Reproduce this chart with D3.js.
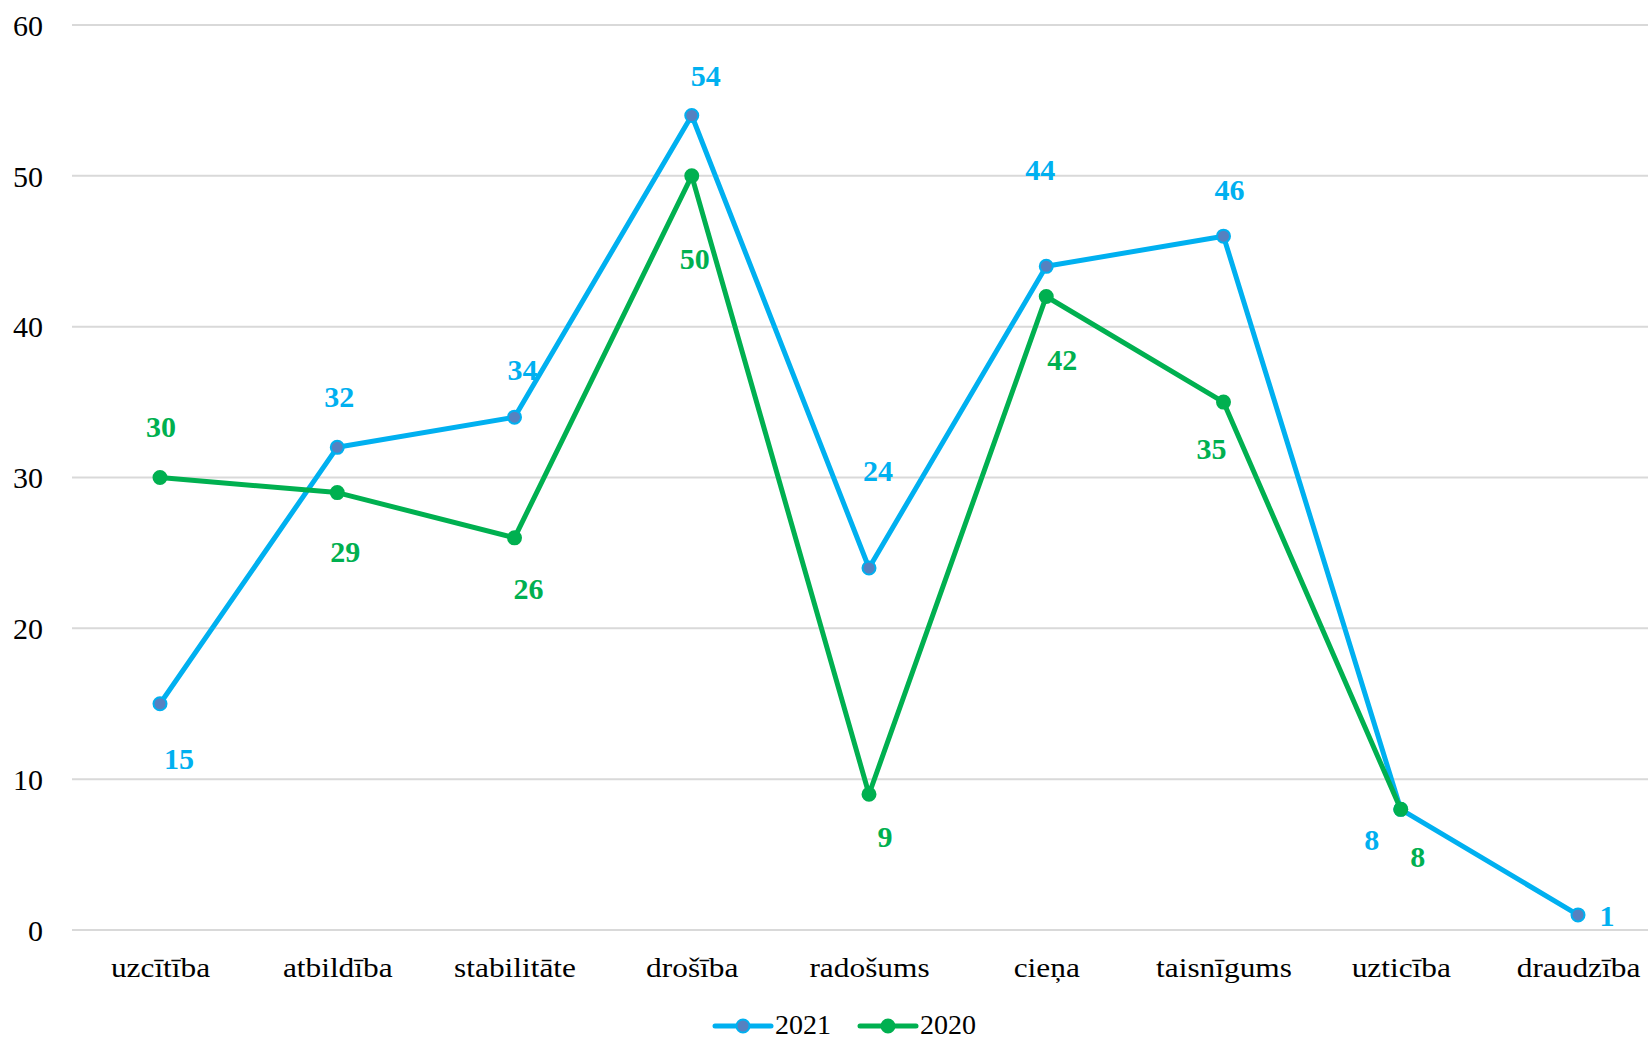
<!DOCTYPE html>
<html>
<head>
<meta charset="utf-8">
<script src="https://cdn.jsdelivr.net/npm/d3@7"></script>
<style>
  html, body { margin: 0; padding: 0; background: #fff; }
  svg { display: block; }
</style>
</head>
<body>
<svg id="chart" width="1648" height="1041"></svg>
<script>
const categories = ["uzcītība", "atbildība", "stabilitāte", "drošība", "radošums", "cieņa", "taisnīgums", "uzticība", "draudzība"];
const values2021 = [15, 32, 34, 54, 24, 44, 46, 8, 1];
const values2020 = [30, 29, 26, 50, 9, 42, 35, 8, null];
const yTicks = [0, 10, 20, 30, 40, 50, 60];
const seriesNames = ["2021", "2020"];

// label placement offsets (px) relative to each point: [dx, dy]
const labelOffsets2021 = [[19, 55], [2, -51], [8, -48], [14, -40], [9, -98], [-6, -97], [6, -47], [-29, 30], [29, 1]];
const labelOffsets2020 = [[1, -51], [8, 59], [14, 51], [3, 83], [16, 42], [16, 63], [-12, 46], [17, 47], null];

const blue = "#00B0F0", green = "#00B050", markerBlue = "#5681C0";
const svg = d3.select("#chart");
const font = "'Liberation Serif', 'Times New Roman', serif";

const x = d3.scalePoint().domain(categories).range([160, 1578]);
const y = d3.scaleLinear().domain([0, 60]).range([930, 25]);

// gridlines
svg.append("g").selectAll("line").data(yTicks).join("line")
  .attr("x1", 72).attr("x2", 1648)
  .attr("y1", d => y(d)).attr("y2", d => y(d))
  .attr("stroke", "#d9d9d9").attr("stroke-width", 2);

// y axis labels
const yAxis = d3.axisLeft(y).tickValues(yTicks).tickSize(0).tickPadding(0);
const gy = svg.append("g").attr("transform", "translate(43,0)").call(yAxis);
gy.select(".domain").remove();
gy.selectAll("text").attr("font-family", font).attr("font-size", 30).attr("fill", "#000").attr("dy", "0.34em");

// x axis labels
const xAxis = d3.axisBottom(x).tickSize(0).tickPadding(0);
const gx = svg.append("g").attr("transform", "translate(0,977)").call(xAxis);
gx.select(".domain").remove();
gx.selectAll("text").attr("font-family", font).attr("font-size", 28).attr("fill", "#000")
  .attr("dy", 0).attr("y", 0).attr("transform", "scale(1.12,1)");

const line = d3.line().defined(d => d.v != null).x(d => x(d.c)).y(d => y(d.v));

function drawSeries(vals, color, mfill, offsets) {
  const data = categories.map((c, i) => ({ c, v: vals[i], o: offsets[i] })).filter(d => d.v != null);
  svg.append("path").datum(data).attr("d", line)
    .attr("fill", "none").attr("stroke", color).attr("stroke-width", 5).attr("stroke-linejoin", "round");
  svg.append("g").selectAll("circle").data(data).join("circle")
    .attr("cx", d => x(d.c)).attr("cy", d => y(d.v)).attr("r", 6.5)
    .attr("fill", mfill).attr("stroke", color).attr("stroke-width", 2);
  return data;
}

const d21 = drawSeries(values2021, blue, markerBlue, labelOffsets2021);
const d20 = drawSeries(values2020, green, green, labelOffsets2020);

function drawLabels(data, color) {
  svg.append("g").selectAll("text").data(data).join("text")
    .attr("x", d => x(d.c) + d.o[0]).attr("y", d => y(d.v) + d.o[1])
    .attr("text-anchor", "middle").attr("dy", "0.35em")
    .attr("font-family", font).attr("font-weight", "bold").attr("font-size", 30)
    .attr("fill", color).text(d => d.v);
}
drawLabels(d21, blue);
drawLabels(d20, green);

// legend
const legend = svg.append("g");
const legendItems = [
  { name: seriesNames[0], color: blue, mfill: markerBlue, x0: 715 },
  { name: seriesNames[1], color: green, mfill: green, x0: 860 }
];
legendItems.forEach(it => {
  legend.append("line").attr("x1", it.x0).attr("x2", it.x0 + 56).attr("y1", 1026).attr("y2", 1026)
    .attr("stroke", it.color).attr("stroke-width", 5).attr("stroke-linecap", "round");
  legend.append("circle").attr("cx", it.x0 + 28).attr("cy", 1026).attr("r", 6.5)
    .attr("fill", it.mfill).attr("stroke", it.color).attr("stroke-width", 2);
  legend.append("text").attr("x", it.x0 + 60).attr("y", 1034)
    .attr("font-family", font).attr("font-size", 28).attr("fill", "#000").text(it.name);
});
</script>
</body>
</html>
